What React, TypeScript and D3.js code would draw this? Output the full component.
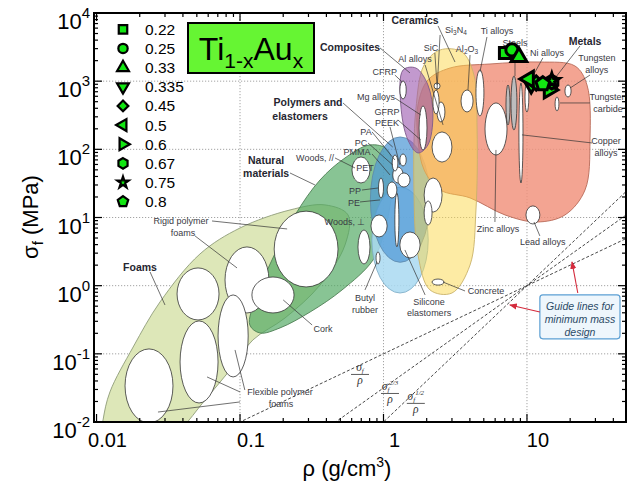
import React from "react";
import * as d3 from "d3";

type P = [number, number];
type R4 = [number, number, number, number];

// ---------------- Ti(1-x)Au(x) measurements ----------------
const compositions = ["0.22", "0.25", "0.33", "0.335", "0.45", "0.5", "0.6", "0.67", "0.75", "0.8"];
const densities = [7.03, 7.86, 8.79, 10.7, 11.6, 10.3, 14.2, 14.9, 14.9, 12.9];
const strengths = [2590, 2870, 2265, 910, 940, 1077, 743, 973, 1007, 910];
const markerShapes = ["square", "circle", "triangleUp", "triangleDown", "diamond", "triangleLeft", "triangleRight", "hexagon", "star", "pentagon"];

// ---------------- axis ticks ----------------
const xTickValues = [0.01, 0.1, 1, 10];
const xTickLabels = ["0.01", "0.1", "1", "10"];
const yTickValues = [0.01, 0.1, 1, 10, 100, 1000, 10000];
const yTickExps = ["-2", "-1", "0", "1", "2", "3", "4"];

// ---------------- material-class envelopes (rho g/cm3, sigma MPa) ----------------
const foamsEnv: P[] = [[0.0106, 0.0039], [0.0111, 0.0107], [0.0124, 0.0276], [0.018, 0.126], [0.0277, 0.577], [0.0526, 2.92], [0.1, 7.02], [0.223, 12.9], [0.391, 15.3], [0.566, 10.9], [0.539, 3.95], [0.361, 1.02], [0.206, 0.336], [0.123, 0.16], [0.0853, 0.058], [0.057, 0.021], [0.0382, 0.0076], [0.0236, 0.0033]];
const naturalEnv: P[] = [[0.117, 0.265], [0.129, 0.661], [0.167, 2.38], [0.242, 10.9], [0.361, 35.5], [0.539, 74.7], [0.805, 116], [1.07, 97.9], [1.15, 30.0], [1.02, 6.56], [0.845, 2.38], [0.514, 0.865], [0.308, 0.411], [0.19, 0.24], [0.138, 0.202]];
const ceramicsEnv: P[] = [[2.48, 2870], [3.52, 2680], [4.27, 1233], [4.49, 192], [4.41, 12.9], [4.01, 2.01], [3.0, 0.78], [2.11, 0.865], [1.74, 2.82], [1.63, 25.3], [1.68, 378], [1.92, 1730]];
const metalsEnv: P[] = [[1.74, 448], [2.04, 1040], [2.91, 1560], [5.52, 1786], [12.3, 1910], [21.6, 1670], [26.2, 879], [27.5, 137], [25.4, 25.4], [18.4, 10.9], [11.7, 8.59], [7.03, 10.9], [4.01, 19.4], [2.48, 25.4], [1.92, 49.8], [1.74, 137]];
const compositesEnv: P[] = [[1.37, 1459], [1.68, 1560], [2.04, 879], [2.21, 319], [2.04, 116], [1.74, 88.5], [1.48, 137], [1.32, 448]];
const elastomersRange: R4 = [0.83, 2.05, 0.78, 27.9];
const polymersRange: R4 = [0.81, 2.11, 2.2, 152];

// ---------------- individual materials: [rhoMin, rhoMax, sigmaMin, sigmaMax] ----------------
const whiteBubbles: R4[] = [
  [0.173, 0.482, 0.957, 12.4], [0.0786, 0.159, 0.398, 3.7], [0.0364, 0.0714, 0.314, 1.82],
  [0.121, 0.238, 0.398, 1.34], [0.0382, 0.0703, 0.019, 0.304], [0.0703, 0.114, 0.0458, 0.731],
  [0.0158, 0.0341, 0.0097, 0.118], [0.664, 0.805, 2.08, 6.56], [0.603, 0.805, 32.1, 77.3],
  [0.887, 0.946, 2.08, 3.12], [0.818, 1.06, 5.18, 10.9], [1.3, 1.8, 2.55, 6.13],
  [1.2, 1.28, 3.7, 22.9], [0.923, 1.0, 19.3, 38.0], [1.06, 1.24, 19.3, 33.2],
  [1.16, 1.37, 32.1, 55], [1.26, 1.53, 28, 45], [1.15, 1.26, 48, 82.6], [1.3, 1.44, 57, 85.5],
  [1.3, 1.44, 548, 1007], [1.77, 2.01, 98, 432], [2.18, 3.0, 65, 180], [2.36, 2.68, 252, 495],
  [2.21, 2.44, 330, 743], [2.25, 2.48, 767, 940], [3.47, 4.21, 353, 743], [4.41, 5.01, 309, 1460],
  [5.1, 7.26, 82.6, 479], [8.79, 9.38, 32.1, 940], [9.69, 10.3, 353, 973], [18.4, 20.3, 586, 879],
  [15.7, 16.7, 366, 586], [9.84, 12.3, 8.03, 14.8], [2.18, 2.64, 1.02, 1.25], [1.92, 2.56, 12.0, 38],
  [1.92, 2.18, 7.76, 17.5],
];
const grayBubbles: R4[] = [[7.74, 8.51, 192, 1191], [7.14, 7.62, 228, 879]];

// ---------------- labels: [text, rho, sigma, bold] ----------------
const labels: [string, number, number, boolean][] = [
  ["Ceramics", 1.66, 7890, true], ["SiC", 2.14, 3070, false], ["Ti alloys", 6.18, 5450, false],
  ["Steels", 8.25, 3630, false], ["Ni alloys", 13.8, 2590, false], ["Metals", 25.4, 3880, true],
  ["Tungsten", 30.7, 2190, false], ["alloys", 30.7, 1460, false], ["Tungsten", 36.7, 586, false],
  ["carbide", 36.7, 391, false], ["Copper", 35.6, 133, false], ["alloys", 35.6, 88.5, false],
  ["Composites", 0.585, 3180, true], ["Al alloys", 1.66, 2110, false], ["CFRP", 1.02, 1360, false],
  ["Mg alloys", 0.887, 586, false], ["GFRP", 1.06, 353, false], ["PEEK", 1.06, 244, false],
  ["Polymers and", 0.298, 495, true], ["elastomers", 0.262, 309, true], ["PA", 0.755, 180, false],
  ["PC", 0.697, 124, false], ["PMMA", 0.653, 91.5, false], ["PET", 0.743, 53.3, false],
  ["Woods, //", 0.333, 74.7, false], ["PP", 0.633, 24.5, false], ["PE", 0.623, 16.3, false],
  ["Woods, \u22a5", 0.539, 8.59, false], ["Natural", 0.152, 69.8, true], ["materials", 0.152, 45.0, true],
  ["Rigid polymer", 0.0388, 8.89, false], ["foams", 0.0401, 5.93, false], ["Foams", 0.0201, 1.88, true],
  ["Cork", 0.379, 0.232, false], ["Butyl", 0.743, 0.66, false], ["rubber", 0.743, 0.44, false],
  ["Silicone", 2.08, 0.577, false], ["elastomers", 2.08, 0.398, false], ["Concrete", 5.18, 0.836, false],
  ["Zinc alloys", 6.28, 6.79, false], ["Lead alloys", 12.9, 4.38, false],
  ["Flexible polymer", 0.19, 0.0276, false], ["foams", 0.193, 0.0184, false],
];
// chemical formulas with subscripts: [parts, rho, sigma]
const formulaLabels: [string[], number, number][] = [
  [["Si", "3", "N", "4"], 3.2, 5640],
  [["Al", "2", "O", "3"], 3.82, 2970],
];
// leader lines [rho1, sigma1, rho2, sigma2]
const leaders: R4[] = [
  [2.4, 6460, 3.15, 1910], [2.48, 4760, 2.36, 743], [2.28, 2590, 2.36, 879], [4.01, 2420, 3.88, 743],
  [5.26, 4450, 4.7, 1360], [8.25, 3070, 8.25, 1190], [12.9, 2190, 10.8, 1110], [23.4, 3280, 15.7, 1110],
  [27.5, 1230, 20.0, 794], [27.5, 479, 17.0, 479], [28.4, 124, 9.23, 163], [5.98, 8.59, 6.08, 98],
  [12.3, 5.36, 11.2, 8.59], [0.946, 3070, 1.53, 1320], [1.95, 1730, 2.6, 228], [1.2, 1230, 1.35, 973],
  [1.2, 567, 1.82, 319], [1.26, 270, 1.82, 137], [1.11, 213, 1.3, 59], [0.522, 479, 1.16, 108],
  [0.832, 180, 1.2, 69.8], [0.78, 124, 1.16, 59], [0.832, 85.5, 1.11, 42.1], [0.459, 74.7, 0.633, 53.3],
  [0.708, 25.3, 0.916, 27.1], [0.686, 16.9, 0.946, 18.1], [0.223, 45, 0.333, 30],
  [0.0638, 8.89, 0.213, 6.79], [0.0486, 5.36, 0.0953, 1.82], [0.0236, 1.59, 0.03, 0.521],
  [0.318, 0.265, 0.2, 0.617], [0.108, 0.0295, 0.0923, 0.114], [0.1, 0.0276, 0.0589, 0.0458],
  [0.1, 0.0197, 0.0268, 0.014], [0.743, 0.865, 0.902, 2.23], [1.95, 0.731, 1.41, 3.34], [3.7, 0.836, 2.6, 1.13],
];

// guide lines for minimum mass design: sigma = (rho/10)^slope
const guideSlopes = [1, 1.5, 2];
const guideExponents = ["", "2/3", "1/2"];
const guideLabelPos: P[] = [[0.686, 0.0561], [1.11, 0.0295], [1.68, 0.0211]];
const calloutBox: R4 = [12.3, 44.5, 0.166, 0.731];
const calloutLines = ["Guide lines for", "minimum mass", "design"];
const calloutLineSigma = [0.44, 0.284, 0.183];
const calloutArrows: R4[] = [[22.6, 0.78, 20.6, 2.23], [12.3, 0.411, 7.6, 0.521]];

// ---------------- geometry ----------------
const L = 94, Rr = 626, T = 13, B = 422;
const x = d3.scaleLog().domain([0.0096, 49]).range([L, Rr]);
const y = d3.scaleLog().domain([0.01, 10000]).range([B, T]);
const FONT = "'Liberation Sans', Arial, Helvetica, sans-serif";

const polygonSymbol = (n: number) => ({
  draw(ctx: any, size: number) {
    const r = Math.sqrt(size / ((n / 2) * Math.sin((2 * Math.PI) / n)));
    for (let i = 0; i < n; i++) {
      const a = -Math.PI / 2 + (i * 2 * Math.PI) / n;
      const px = r * Math.cos(a), py = r * Math.sin(a);
      if (i === 0) ctx.moveTo(px, py); else ctx.lineTo(px, py);
    }
    ctx.closePath();
  },
});

const shapeDefs: Record<string, { type: any; rot: number; k: number }> = {
  square: { type: d3.symbolSquare, rot: 0, k: 1 },
  circle: { type: d3.symbolCircle, rot: 0, k: 0.95 },
  triangleUp: { type: d3.symbolTriangle, rot: 0, k: 0.85 },
  triangleDown: { type: d3.symbolTriangle, rot: 180, k: 0.85 },
  diamond: { type: d3.symbolSquare, rot: 45, k: 0.8 },
  triangleLeft: { type: d3.symbolTriangle, rot: -90, k: 0.85 },
  triangleRight: { type: d3.symbolTriangle, rot: 90, k: 0.85 },
  hexagon: { type: polygonSymbol(6), rot: 0, k: 1 },
  star: { type: d3.symbolStar, rot: 0, k: 0.55 },
  pentagon: { type: polygonSymbol(5), rot: 0, k: 1 },
};

const Marker = ({ shape, cx, cy, size, sw }: { shape: string; cx: number; cy: number; size: number; sw: number }) => {
  const def = shapeDefs[shape];
  const d = d3.symbol().type(def.type).size(size * def.k)() as string;
  return <path d={d} transform={`translate(${cx},${cy}) rotate(${def.rot})`} fill="#12e612" stroke="#000" strokeWidth={sw} strokeLinejoin="miter" />;
};

const envLine = d3.line<P>().x((d) => x(d[0])).y((d) => y(d[1])).curve(d3.curveCatmullRomClosed.alpha(0.5));

const Ell = ({ r, fill, stroke, opacity }: { r: R4; fill: string; stroke: string; opacity?: number }) => {
  const cx = (x(r[0]) + x(r[1])) / 2, cy = (y(r[2]) + y(r[3])) / 2;
  const rx = Math.abs(x(r[1]) - x(r[0])) / 2, ry = Math.abs(y(r[3]) - y(r[2])) / 2;
  return <ellipse cx={cx} cy={cy} rx={rx} ry={ry} fill={fill} stroke={stroke} strokeWidth={0.8} fillOpacity={opacity ?? 1} />;
};

export default function App() {
  const minorX = x.ticks(30).filter((v) => v >= 0.0096 && v <= 49);
  const minorY = y.ticks(60).filter((v) => v >= 0.01 && v <= 10000);
  const xDom = x.domain();

  return (
    <svg width={631} height={487} style={{ display: "block", position: "absolute", left: 0, top: 0, background: "#fff" }} fontFamily={FONT}>
      <defs>
        <clipPath id="plotClip"><rect x={L} y={T} width={Rr - L} height={B - T} /></clipPath>
        <marker id="redArrow" viewBox="0 0 10 10" refX="9" refY="5" markerWidth="7" markerHeight="7" orient="auto-start-reverse">
          <path d="M0,1 L10,5 L0,9 z" fill="#d42a3c" />
        </marker>
      </defs>

      <g clipPath="url(#plotClip)">
        {/* grid */}
        {[0.1, 1, 10].map((v) => <line key={"gx" + v} x1={x(v)} x2={x(v)} y1={T} y2={B} stroke="#9a9a9a" strokeWidth={0.9} strokeDasharray="1.2,1.8" />)}
        {[0.1, 1, 10, 100, 1000].map((v) => <line key={"gy" + v} x1={L} x2={Rr} y1={y(v)} y2={y(v)} stroke="#9a9a9a" strokeWidth={0.9} strokeDasharray="1.2,1.8" />)}

        {/* envelopes */}
        <path d={envLine(foamsEnv) as string} fill="#dde7b8" stroke="#8f9c78" strokeWidth={0.9} />
        <path d={envLine(naturalEnv) as string} fill="#4fa862" fillOpacity={0.68} stroke="#4f7f55" strokeWidth={0.9} />
        <Ell r={elastomersRange} fill="#a9d9f1" stroke="#7aa9c4" opacity={0.85} />
        <Ell r={polymersRange} fill="#4f98d6" stroke="#5c87aa" opacity={0.72} />
        <path d={envLine(metalsEnv) as string} fill="#f0907a" fillOpacity={0.82} stroke="#b86a58" strokeWidth={0.9} />
        <path d={envLine(ceramicsEnv) as string} fill="#fbd84a" fillOpacity={0.5} stroke="#c9b26a" strokeWidth={0.9} />
        <path d={envLine(compositesEnv) as string} fill="#9a55ad" fillOpacity={0.6} stroke="#7d5a8a" strokeWidth={0.9} />

        {/* individual materials */}
        {whiteBubbles.map((r, i) => <Ell key={"w" + i} r={r} fill="#fff" stroke="#333" />)}
        {grayBubbles.map((r, i) => <Ell key={"g" + i} r={r} fill="#bdbdbd" stroke="#333" />)}

        {/* guide lines */}
        {guideSlopes.map((s) => (
          <line key={"gl" + s} x1={x(xDom[0])} y1={y(Math.pow(xDom[0] / 10, s))} x2={x(xDom[1])} y2={y(Math.pow(xDom[1] / 10, s))}
            stroke="#333" strokeWidth={0.9} strokeDasharray="3,2" />
        ))}

        {/* leader lines */}
        {leaders.map((l, i) => <line key={"ld" + i} x1={x(l[0])} y1={y(l[1])} x2={x(l[2])} y2={y(l[3])} stroke="#333" strokeWidth={0.7} />)}

        {/* labels */}
        {labels.map(([t, r, s, b], i) => (
          <text key={"lb" + i} x={x(r)} y={y(s)} dy="0.35em" textAnchor="middle" fontSize={b ? 10.5 : 9}
            fontWeight={b ? "bold" : "normal"} fill={b ? "#262630" : "#3a3a44"}>{t}</text>
        ))}
        {formulaLabels.map(([parts, r, s], i) => (
          <text key={"fl" + i} x={x(r)} y={y(s)} dy="0.35em" textAnchor="middle" fontSize={9} fill="#3a3a44">
            {parts[0]}<tspan fontSize={6.5} dy={2}>{parts[1]}</tspan><tspan dy={-2}>{parts[2]}</tspan><tspan fontSize={6.5} dy={2}>{parts[3]}</tspan>
          </text>
        ))}

        {/* guide-line fractions */}
        {guideLabelPos.map(([r, s], i) => {
          const cx = x(r), cy = y(s);
          return (
            <g key={"frac" + i} fill="#333" fontFamily="'Liberation Serif', 'DejaVu Serif', serif" fontStyle="italic">
              <text x={cx} y={cy} textAnchor="middle" fontSize={11.5}>
                {"\u03c3"}<tspan fontSize={7} dy={2}>f</tspan>
                {guideExponents[i] && <tspan fontSize={7} dy={-7}>{guideExponents[i]}</tspan>}
              </text>
              <line x1={cx - 9} x2={cx + 9} y1={cy + 3.5} y2={cy + 3.5} stroke="#333" strokeWidth={0.8} />
              <text x={cx} y={cy + 13} textAnchor="middle" fontSize={11.5}>{"\u03c1"}</text>
            </g>
          );
        })}

        {/* callout */}
        <rect x={x(calloutBox[0])} y={y(calloutBox[3])} width={x(calloutBox[1]) - x(calloutBox[0])} height={y(calloutBox[2]) - y(calloutBox[3])}
          rx={3} fill="#eef6fc" stroke="#5b9fd3" strokeWidth={1.2} />
        {calloutLines.map((t, i) => (
          <text key={"cl" + i} x={(x(calloutBox[0]) + x(calloutBox[1])) / 2} y={y(calloutLineSigma[i])} textAnchor="middle"
            fontSize={10.5} fontStyle="italic" fill="#2b4a66">{t}</text>
        ))}
        {calloutArrows.map((a, i) => (
          <line key={"ar" + i} x1={x(a[0])} y1={y(a[1])} x2={x(a[2])} y2={y(a[3])} stroke="#d42a3c" strokeWidth={1.1} markerEnd="url(#redArrow)" />
        ))}

        {/* Ti-Au data */}
        {compositions.map((c, i) => (
          <Marker key={"m" + c} shape={markerShapes[i]} cx={x(densities[i])} cy={y(strengths[i])} size={125} sw={3} />
        ))}
      </g>

      {/* axes frame */}
      <rect x={L} y={T} width={Rr - L} height={B - T} fill="none" stroke="#000" strokeWidth={2} />
      {minorX.map((v, i) => {
        const major = xTickValues.includes(v);
        const len = major ? 8 : 4;
        return (
          <g key={"tx" + i} stroke="#000" strokeWidth={1.2}>
            <line x1={x(v)} x2={x(v)} y1={B} y2={B - len} />
            <line x1={x(v)} x2={x(v)} y1={T} y2={T + len} />
          </g>
        );
      })}
      {minorY.map((v, i) => {
        const major = yTickValues.includes(v);
        const len = major ? 8 : 4;
        return (
          <g key={"ty" + i} stroke="#000" strokeWidth={1.2}>
            <line x1={L} x2={L + len} y1={y(v)} y2={y(v)} />
            <line x1={Rr} x2={Rr - len} y1={y(v)} y2={y(v)} />
          </g>
        );
      })}
      {xTickValues.map((v, i) => (
        <text key={"xl" + i} x={x(v) + 11} y={447} textAnchor="middle" fontSize={20} fill="#000">{xTickLabels[i]}</text>
      ))}
      {yTickValues.map((v, i) => (
        <text key={"yl" + i} x={90} y={y(v) + 16} textAnchor="end" fontSize={22} fill="#000">
          10<tspan fontSize={15} dy={-11}>{yTickExps[i]}</tspan>
        </text>
      ))}

      {/* axis titles */}
      <text x={347} y={476} textAnchor="middle" fontSize={22} fill="#000">
        {"\u03c1 (g/cm"}<tspan fontSize={14} dy={-9}>3</tspan><tspan dy={9}>)</tspan>
      </text>
      <text transform="translate(38,217) rotate(-90)" textAnchor="middle" fontSize={22} fill="#000">
        {"\u03c3"}<tspan fontSize={15} dy={5}>f</tspan><tspan dy={-5}>{" (MPa)"}</tspan>
      </text>

      {/* legend */}
      {compositions.map((c, i) => {
        const ly = 29.3 + i * 19.15;
        return (
          <g key={"lg" + c}>
            <Marker shape={markerShapes[i]} cx={123} cy={ly} size={72} sw={2.2} />
            <text x={145} y={ly + 5.5} fontSize={15.5} fill="#000">{c}</text>
          </g>
        );
      })}

      {/* title box */}
      <rect x={188} y={23} width={126} height={50} fill="#66f533" stroke="#000" strokeWidth={2} />
      <text x={251} y={60} textAnchor="middle" fontSize={32} fill="#000">
        Ti<tspan fontSize={21} dy={8}>1-x</tspan><tspan dy={-8}>Au</tspan><tspan fontSize={21} dy={8}>x</tspan>
      </text>
    </svg>
  );
}
